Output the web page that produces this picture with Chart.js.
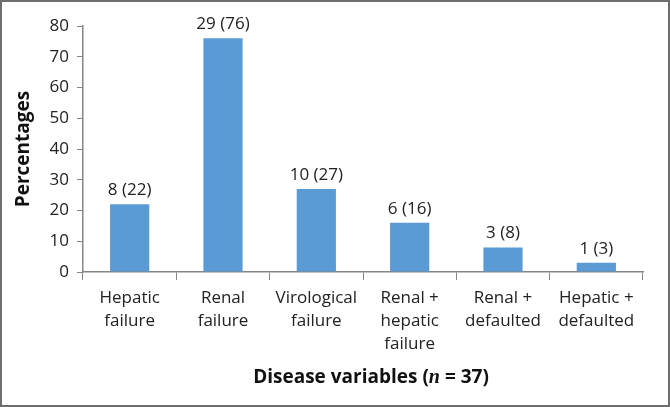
<!DOCTYPE html>
<html lang="en">
<head>
  <meta charset="UTF-8">
  <title>Disease variables</title>
  <script src="https://cdn.jsdelivr.net/npm/chart.js"></script>
  <style>
    html, body { margin: 0; padding: 0; background: #fff; }
    #wrap { width: 670px; height: 407px; }
  </style>
</head>
<body>
  <div id="wrap"><canvas id="diseaseChart"></canvas></div>

  <script>
    const categories = [
      ["Hepatic", "failure"],
      ["Renal", "failure"],
      ["Virological", "failure"],
      ["Renal +", "hepatic", "failure"],
      ["Renal +", "defaulted"],
      ["Hepatic +", "defaulted"]
    ];
    const counts = [8, 29, 10, 6, 3, 1];
    const percentages = [22, 76, 27, 16, 8, 3];
    const yTicks = [0, 10, 20, 30, 40, 50, 60, 70, 80];

    const FONT = "'Open Sans', sans-serif";
    const TEXT = "#222";
    const AXIS = "#868686";

    // white background + frame
    const frame = {
      id: "frame",
      beforeDraw(chart) {
        const c = chart.ctx;
        c.save();
        c.fillStyle = "#fff";
        c.fillRect(0, 0, chart.width, chart.height);
        c.strokeStyle = "#6e6e6e";
        c.lineWidth = 2;
        c.strokeRect(1, 1, chart.width - 2, chart.height - 2);
        c.restore();
      }
    };

    // "n (pct)" above bars + x title with italic n
    const labels = {
      id: "labels",
      afterDatasetsDraw(chart) {
        const c = chart.ctx;
        const meta = chart.getDatasetMeta(0);
        c.save();
        c.font = "17px " + FONT;
        c.fillStyle = TEXT;
        c.textAlign = "center";
        c.textBaseline = "middle";
        meta.data.forEach((bar, i) => {
          c.fillText(counts[i] + " (" + percentages[i] + ")", bar.x, bar.y - 14);
        });

        const parts = [
          { t: "Disease variables (", f: "bold 19px " + FONT },
          { t: "n", f: "bold italic 20px 'Liberation Serif', serif" },
          { t: " = 37)", f: "bold 19px " + FONT }
        ];
        let total = 0;
        parts.forEach(p => { c.font = p.f; p.w = c.measureText(p.t).width; total += p.w; });
        const area = chart.chartArea;
        let x = (area.left + area.right) / 2 + 8 - total / 2;
        c.textAlign = "left";
        c.fillStyle = "#111";
        parts.forEach(p => {
          c.font = p.f;
          c.fillText(p.t, x, 378);
          x += p.w;
        });
        c.restore();
      }
    };

    new Chart(document.getElementById("diseaseChart"), {
      type: "bar",
      data: {
        labels: categories,
        datasets: [{
          data: percentages,
          backgroundColor: "#5b9bd5",
          categoryPercentage: 1,
          barPercentage: 0.42
        }]
      },
      options: {
        responsive: true,
        maintainAspectRatio: false,
        animation: false,
        layout: { padding: { top: 26, right: 27, bottom: 0, left: 0 } },
        plugins: {
          legend: { display: false },
          tooltip: { enabled: false }
        },
        scales: {
          x: {
            afterFit(scale) { scale.height = 135; },
            grid: {
              offset: true,
              drawOnChartArea: false,
              tickLength: 8,
              color: AXIS
            },
            border: { color: AXIS, width: 1.5 },
            ticks: {
              color: TEXT,
              font: { family: FONT, size: 17, lineHeight: 1.35 },
              padding: 7,
              maxRotation: 0,
              autoSkip: false
            }
          },
          y: {
            min: 0,
            max: 80,
            afterFit(scale) { scale.width = 83; },
            afterBuildTicks(scale) { scale.ticks = yTicks.map(v => ({ value: v })); },
            grid: {
              drawOnChartArea: false,
              tickLength: 6,
              color: AXIS
            },
            border: { color: AXIS, width: 1.5 },
            ticks: {
              color: TEXT,
              font: { family: FONT, size: 17 },
              padding: 8
            },
            title: {
              display: true,
              text: "Percentages",
              color: "#111",
              font: { family: FONT, size: 19, weight: "bold" },
              padding: { top: 12, bottom: 0 }
            }
          }
        }
      },
      plugins: [frame, labels]
    });
  </script>
</body>
</html>
